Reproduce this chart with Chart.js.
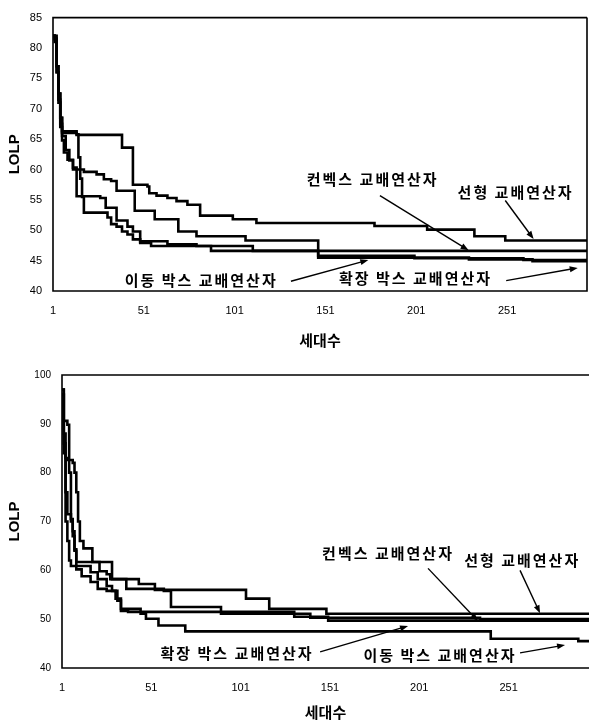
<!DOCTYPE html>
<html>
<head>
<meta charset="utf-8">
<script src="https://cdn.jsdelivr.net/npm/chart.js@4.4.1/dist/chart.umd.min.js"></script>
<style>
html, body { margin: 0; padding: 0; background: #fff; }
#wrap { position: relative; width: 589px; height: 721px; }
.box { position: absolute; left: 0; width: 589px; }
</style>
</head>
<body>
<div id="wrap">
	<div class="box" style="top:0;height:358px"><canvas id="top" width="589" height="358"></canvas></div>
	<div class="box" style="top:358px;height:363px"><canvas id="bottom" width="589" height="363"></canvas></div>
</div>
<script>
// generation ticks and LOLP ticks
var topTicksX = [1, 51, 101, 151, 201, 251];
var topTicksY = [40, 45, 50, 55, 60, 65, 70, 75, 80, 85];
var botTicksX = [1, 51, 101, 151, 201, 251];
var botTicksY = [40, 50, 60, 70, 80, 90, 100];

// [generation, best LOLP] at each change, upper chart
var topLinear = [[1, 82], [2, 81.5], [3, 77], [4, 72.5], [5, 68.5], [6, 66.3], [14, 65.7], [39, 63.6], [45, 57.5],
	[53, 57.2], [54, 56.1], [58, 55.7], [64, 55.3], [69, 54.8], [75, 54.2], [82, 52.4], [100, 51.8], [113, 51.2],
	[178, 50.7], [207, 50.1], [233, 49.0], [250, 48.3], [300, 48.3]];
var topConvex = [[1, 82], [2, 81], [3, 76], [4, 71], [5, 67], [6, 64.8], [7, 62.8], [9, 61.6], [12, 60.3], [14, 55.6],
	[27, 55.3], [30, 53.7], [36, 51.6], [42, 50.6], [45, 49.8], [49, 48.2], [64, 47.7], [80, 47.4], [111, 46.6], [300, 46.6]];
var topMoving = [[1, 82], [2, 81.5], [3, 76], [4, 71.5], [5, 67.5], [6, 66], [14, 65.8], [15, 62], [16, 58.5], [17, 55.5],
	[18, 52.9], [31, 52.1], [33, 51.0], [36, 50.6], [39, 49.8], [42, 49.3], [45, 48.5], [49, 47.9], [55, 47.4], [88, 46.6],
	[147, 45.8], [200, 45.4], [260, 45.1], [300, 45.1]];
var topExpand = [[1, 82], [2, 82], [3, 77], [4, 72.5], [5, 68.5], [6, 65.5], [8, 63.2], [10, 61.5], [12, 60.0], [18, 59.6],
	[25, 59.2], [29, 58.4], [33, 58.1], [36, 56.5], [46, 53.2], [57, 51.8], [70, 49.8], [80, 49.0], [107, 48.3], [147, 45.5],
	[230, 45.2], [265, 44.9], [300, 44.9]];

// lower chart
var botLinear = [[1, 97], [2, 90.6], [4, 89.8], [5, 80], [6, 70], [7, 68], [8, 64], [9, 61.7], [29, 58.2], [44, 57.2],
	[53, 56.0], [104, 54.2], [117, 52.1], [149, 51.1], [300, 51.1]];
var botConvex = [[1, 96], [2, 88], [3, 83], [4, 82.6], [7, 82], [8, 80], [9, 76], [10, 70], [11, 66], [13, 64.5], [18, 61.7],
	[22, 59.8], [26, 59.2], [28, 58.2], [37, 56.2], [58, 55.8], [62, 52.5], [90, 51.1], [140, 50.3], [235, 50.0], [300, 50.0]];
var botExpand = [[1, 96], [2, 86], [3, 76], [4, 71.5], [6, 70.5], [7, 67], [8, 64.3], [9, 60.9], [17, 59.6], [21, 58.2],
	[26, 56.8], [29, 55.8], [32, 53.8], [34, 51.7], [38, 51.5], [131, 50.5], [150, 49.7], [300, 49.7]];
var botMoving = [[1, 97], [2, 84], [3, 70], [4, 66], [5, 62], [6, 60.9], [9, 60.2], [12, 58.8], [17, 57.6], [21, 56.2],
	[26, 55.8], [31, 54.2], [34, 52.1], [45, 51.1], [48, 50.1], [55, 48.7], [70, 47.5], [241, 46.0], [290, 45.5], [300, 45.5]];

// callouts: text centre, arrow start and arrow tip in (generation, LOLP)
var topNotes = [
	{text: '컨벡스 교배연산자', at: [177, 58.4], from: [181, 55.7], to: [229.8, 46.7]},
	{text: '선형 교배연산자', at: [255.7, 56.2], from: [250, 54.9], to: [265.6, 48.55]},
	{text: '이동 박스 교배연산자', at: [82.6, 41.7], from: [132, 41.6], to: [174.6, 45.1]},
	{text: '확장 박스 교배연산자', at: [200.6, 42.05], from: [250.5, 41.7], to: [289.9, 43.8]}
];
var botNotes = [
	{text: '컨벡스 교배연산자', at: [183.5, 63.5], from: [205.9, 60.4], to: [233.9, 49.6]},
	{text: '선형 교배연산자', at: [258.6, 62.0], from: [257.4, 60.0], to: [268.6, 51.2]},
	{text: '확장 박스 교배연산자', at: [99, 43.1], from: [145.5, 43.3], to: [194.7, 48.6]},
	{text: '이동 박스 교배연산자', at: [212.6, 42.7], from: [257.4, 43.1], to: [282.6, 44.7]}
];

var hangul = '"Noto Sans CJK KR", "Noto Sans", sans-serif';
var latin = '"Liberation Sans", Arial, sans-serif';

function drawArrow(ctx, x0, y0, x1, y1) {
	var a = Math.atan2(y1 - y0, x1 - x0);
	var c = Math.cos(a), s = Math.sin(a);
	ctx.beginPath();
	ctx.moveTo(x0, y0);
	ctx.lineTo(x1 - 5 * c, y1 - 5 * s);
	ctx.stroke();
	ctx.beginPath();
	ctx.moveTo(x1, y1);
	ctx.lineTo(x1 - 8 * c + 3 * s, y1 - 8 * s - 3 * c);
	ctx.lineTo(x1 - 8 * c - 3 * s, y1 - 8 * s + 3 * c);
	ctx.closePath();
	ctx.fill();
}

function notesPlugin(notes, rightSide) {
	return {
		id: 'notes',
		afterDraw: function(chart) {
			var ctx = chart.ctx;
			var xs = chart.scales.x;
			var ys = chart.scales.y;
			var area = chart.chartArea;
			ctx.save();
			ctx.strokeStyle = '#000';
			ctx.fillStyle = '#000';
			ctx.lineWidth = 1.6;
			ctx.beginPath();
			ctx.moveTo(area.right, area.top);
			ctx.lineTo(area.left, area.top);
			ctx.lineTo(area.left, area.bottom);
			ctx.lineTo(area.right, area.bottom);
			if (rightSide) {
				ctx.lineTo(area.right, area.top);
			}
			ctx.stroke();

			ctx.lineWidth = 1.4;
			notes.forEach(function(n) {
				drawArrow(ctx, xs.getPixelForValue(n.from[0]), ys.getPixelForValue(n.from[1]),
					xs.getPixelForValue(n.to[0]), ys.getPixelForValue(n.to[1]));
			});

			ctx.font = 'bold 15px ' + hangul;
			ctx.letterSpacing = '2px';
			ctx.textAlign = 'center';
			ctx.textBaseline = 'middle';
			notes.forEach(function(n) {
				ctx.fillText(n.text, xs.getPixelForValue(n.at[0]), ys.getPixelForValue(n.at[1]));
			});
			ctx.restore();
		}
	};
}

function makeChart(id, cfg) {
	var datasets = cfg.series.map(function(s) {
		return {
			data: s.map(function(p) {
				return {x: p[0], y: p[1]};
			}),
			borderColor: '#000',
			borderWidth: 2.6,
			pointRadius: 0,
			stepped: true,
			fill: false
		};
	});

	return new Chart(document.getElementById(id), {
		type: 'line',
		data: {datasets: datasets},
		plugins: [notesPlugin(cfg.notes, cfg.rightSide)],
		options: {
			responsive: false,
			animation: false,
			layout: {padding: cfg.padding},
			plugins: {legend: {display: false}, tooltip: {enabled: false}},
			scales: {
				x: {
					type: 'linear',
					min: 1,
					max: cfg.xMax,
					afterBuildTicks: function(scale) {
						scale.ticks = cfg.ticksX.map(function(v) {
							return {value: v};
						});
					},
					afterFit: function(scale) {
						scale.height = cfg.xHeight;
					},
					grid: {display: false, drawTicks: false},
					border: {display: false},
					ticks: {color: '#000', font: {family: latin, size: 11}, padding: 13, maxRotation: 0, autoSkip: false},
					title: {display: true, text: '세대수', color: '#000', font: {family: hangul, size: 15, weight: 'bold'},
						padding: {top: 0, bottom: cfg.titlePad}}
				},
				y: {
					type: 'linear',
					min: cfg.yMin,
					max: cfg.yMax,
					afterBuildTicks: function(scale) {
						scale.ticks = cfg.ticksY.map(function(v) {
							return {value: v};
						});
					},
					afterFit: function(scale) {
						scale.width = cfg.yWidth;
					},
					grid: {display: false, drawTicks: false},
					border: {display: false},
					ticks: {color: '#000', font: {family: latin, size: cfg.yFont}, padding: 11, autoSkip: false},
					title: {display: true, text: 'LOLP', color: '#000', font: {family: latin, size: 15, weight: 'bold'},
						padding: {top: 6, bottom: 0}}
				}
			}
		}
	});
}

makeChart('top', {
	series: [topLinear, topConvex, topMoving, topExpand],
	notes: topNotes,
	ticksX: topTicksX,
	ticksY: topTicksY,
	xMax: 295,
	yMin: 40,
	yMax: 85,
	xHeight: 67,
	yWidth: 53,
	yFont: 11,
	titlePad: 9,
	padding: {top: 7, right: 2, left: 0, bottom: 0},
	rightSide: true
});

makeChart('bottom', {
	series: [botLinear, botConvex, botExpand, botMoving],
	notes: botNotes,
	ticksX: botTicksX,
	ticksY: botTicksY,
	xMax: 296,
	yMin: 40,
	yMax: 100,
	xHeight: 53,
	yWidth: 62,
	yFont: 10,
	titlePad: 0,
	padding: {top: 16, right: 0, left: 0, bottom: 0},
	rightSide: false
});
</script>
</body>
</html>
